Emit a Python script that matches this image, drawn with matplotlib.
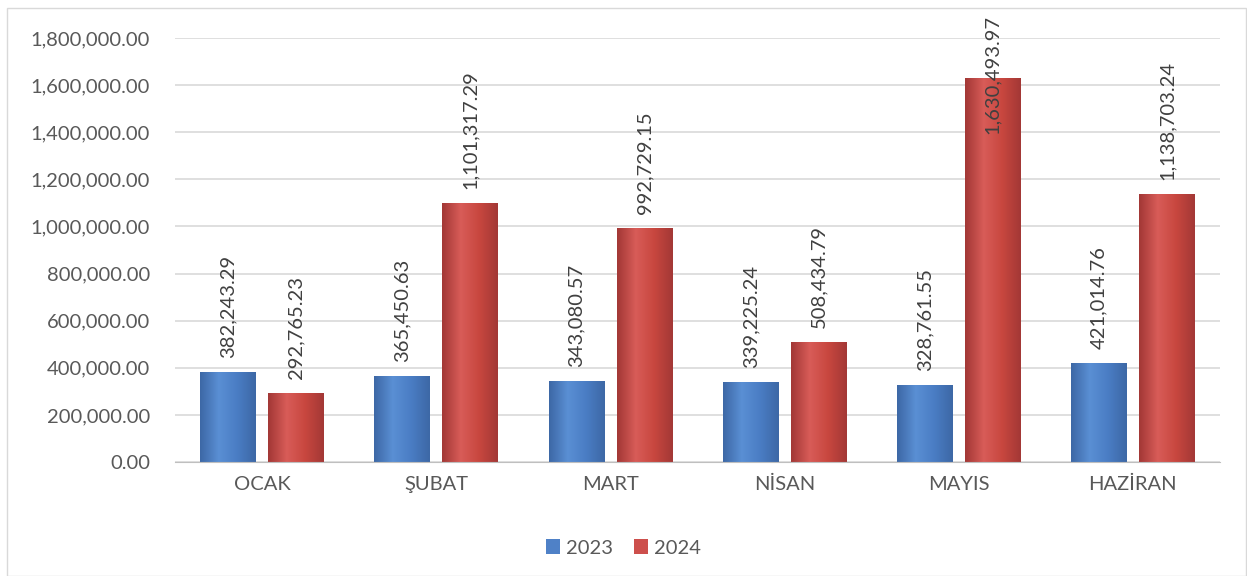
import matplotlib.pyplot as plt
import numpy as np
from matplotlib.colors import LinearSegmentedColormap
from matplotlib.patches import Rectangle
from matplotlib.ticker import FuncFormatter

months = ["OCAK", "ŞUBAT", "MART", "NİSAN", "MAYIS", "HAZİRAN"]
values_2023 = [382243.29, 365450.63, 343080.57, 339225.24, 328761.55, 421014.76]
values_2024 = [292765.23, 1101317.29, 992729.15, 508434.79, 1630493.97, 1138703.24]
years = ["2023", "2024"]

plt.rcParams["font.family"] = ["Lato", "DejaVu Sans"]

fig = plt.figure(figsize=(12.47, 5.76), dpi=100)
ax = fig.add_axes([175 / 1247, 1 - 462 / 576, 1045 / 1247, 424 / 576])
fig.patches.append(Rectangle((7 / 1247, 0), 1239 / 1247, 1 - 8 / 576, transform=fig.transFigure,
                             fill=False, edgecolor="#d9d9d9", linewidth=1))

x = np.arange(len(months))
w = 0.32
off = 0.195
fs = 14.5
colors = ["#4f81c7", "#cd4f4c"]
cmaps = [
    LinearSegmentedColormap.from_list("b", ["#3d68a6", "#5a8fd4", "#4a7dc4", "#3d68a6"]),
    LinearSegmentedColormap.from_list("r", ["#a33836", "#d85c58", "#c8473f", "#a33836"]),
]

grad = np.linspace(0, 1, 64).reshape(1, -1)
for i, (vals, c, cm) in enumerate(zip([values_2023, values_2024], colors, cmaps)):
    bars = ax.bar(x + (i * 2 - 1) * off, vals, width=w, color=c, edgecolor="none",
                  label=years[i], zorder=2)
    for b, v in zip(bars, vals):
        x0, y0 = b.get_x(), b.get_y()
        im = ax.imshow(grad, cmap=cm, aspect="auto", extent=[x0, x0 + b.get_width(), y0, y0 + b.get_height()],
                       zorder=2.5)
        im.set_clip_path(b)
        cx = b.get_x() + b.get_width() / 2
        txt = f"{v:,.2f}"
        if v > 1450000:
            # label does not fit above the bar: pin it to the top of the chart
            ax.annotate(txt, (cx, 1 + 23 / 424), xycoords=("data", "axes fraction"),
                        rotation=90, ha="center", va="top", fontsize=fs, color="#404040", zorder=4)
        else:
            ax.annotate(txt, (cx, v), xytext=(0, 10), textcoords="offset points", rotation=90,
                        ha="center", va="bottom", fontsize=fs, color="#404040", zorder=4)

ax.set_xlim(-0.5, len(months) - 0.5)
ax.set_ylim(0, 1800000)
ax.set_yticks(np.arange(0, 1800001, 200000))
ax.yaxis.set_major_formatter(FuncFormatter(lambda v, p: f"{v:,.2f}"))
ax.set_xticks(x)
ax.set_xticklabels(months)
ax.tick_params(axis="both", length=0, labelsize=fs, labelcolor="#595959")
ax.tick_params(axis="x", pad=10)
ax.tick_params(axis="y", pad=18)
ax.grid(axis="y", color="#d9d9d9", linewidth=1.2, zorder=0)
ax.set_axisbelow(True)
for s in ["top", "right", "left"]:
    ax.spines[s].set_visible(False)
ax.spines["bottom"].set_color("#bfbfbf")

handles, labels = ax.get_legend_handles_labels()
fig.legend(handles, labels, loc="center", bbox_to_anchor=(0.5, 1 - 548 / 576), ncol=2, frameon=False,
           fontsize=fs, handlelength=0.7, handleheight=0.7, handletextpad=0.3, columnspacing=1.0,
           labelcolor="#595959")

fig.savefig("out.png", dpi=100)
